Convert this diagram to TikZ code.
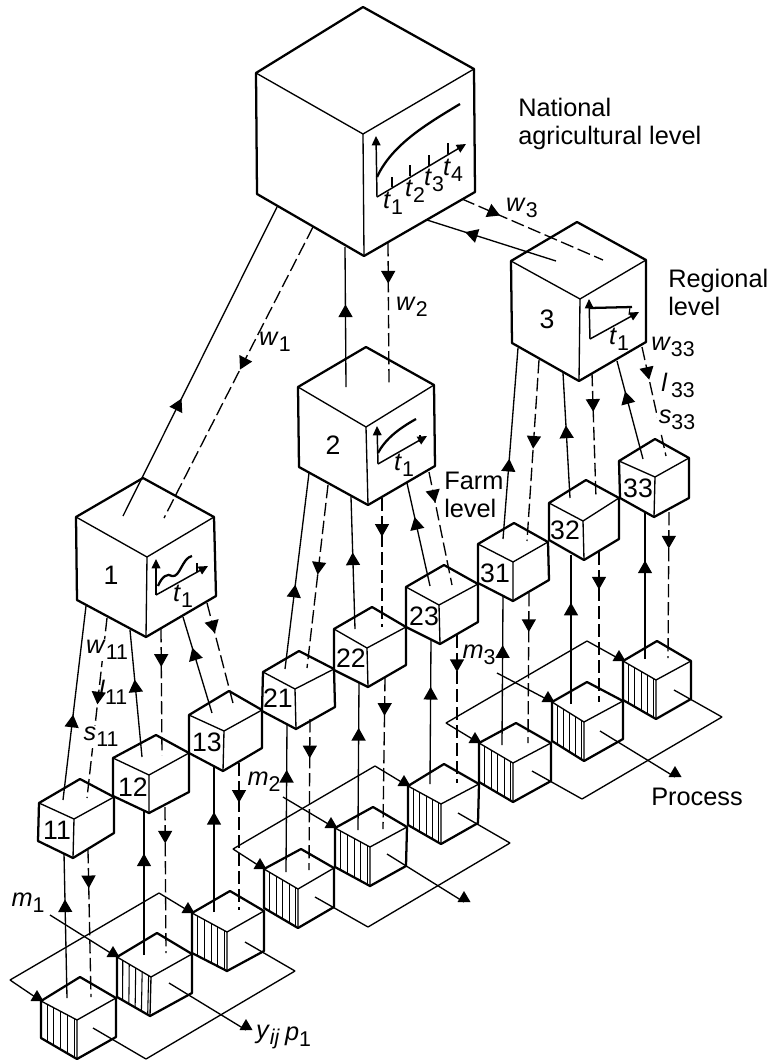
\documentclass[tikz,border=0pt]{standalone}
\usepackage{fontspec}
\setmainfont{Liberation Sans}
\usetikzlibrary{arrows.meta,decorations.markings,calc}
\newcommand{\symsub}[2]{\textit{#1}\raisebox{-0.45ex}{\fontsize{16}{16}\selectfont #2}}
\newcommand{\blockcube}[8]{%
\coordinate (#1-t) at (#2);
\coordinate (#1-l) at (#3);
\coordinate (#1-r) at (#4);
\coordinate (#1-c) at (#5);
\coordinate (#1-ll) at (#6);
\coordinate (#1-b) at (#7);
\coordinate (#1-lr) at (#8);
\fill[white] (#1-t) -- (#1-r) -- (#1-lr) -- (#1-b) -- (#1-ll) -- (#1-l) -- cycle;
\draw[blockedge] (#1-l) -- (#1-c) -- (#1-r) (#1-c) -- (#1-b);
\draw[blockoutline] (#1-l) -- (#1-t) -- (#1-r) -- (#1-lr) -- (#1-b) -- (#1-ll) -- cycle;
}
\newcommand{\hatchface}[1]{%
\foreach \f in {0.17,0.36,0.55,0.74,0.93} {
\draw[hatchline] ($(#1-l)!\f!(#1-c)$) -- ($(#1-ll)!\f!(#1-b)$);
}
}
\newcommand{\headup}[1]{\fill ($(#1)+(-6.5,0)$) -- ($(#1)+(0,-11)$) -- ($(#1)+(6.5,0)$) -- cycle;}
\tikzset{
blockedge/.style={line width=1pt},
blockoutline/.style={line width=1.7pt,line join=round},
hatchline/.style={line width=0.8pt},
plateline/.style={line width=1pt},
graphaxis/.style={line width=1.1pt,-{Triangle[width=6.5pt,length=7pt]}},
graphtick/.style={line width=0.8pt},
graphcurve/.style={line width=1.7pt},
uplink/.style={line width=1pt,postaction={decorate},
  decoration={markings,mark=at position #1 with {\arrow{Triangle[width=10.5pt,length=9.5pt]}}}},
downlink/.style={line width=1pt,dash pattern=on 10pt off 3.5pt,postaction={decorate},
  decoration={markings,mark=at position #1 with {\arrow{Triangle[width=10.5pt,length=9.5pt]}}}},
txt/.style={inner sep=0pt,font=\fontsize{19}{21}\selectfont},
numtxt/.style={inner sep=0pt,font=\fontsize{20}{21}\selectfont},
covertxt/.style={txt,fill=white,inner sep=1pt},
sidetxt/.style={txt,anchor=west,align=left}
}
\begin{document}
\begin{tikzpicture}[x=0.75pt,y=-0.75pt]
\path[use as bounding box] (0,0) rectangle (771,1060);
\coordinate (pl1-l) at (10,980);
\coordinate (pl1-t) at (159,893);
\coordinate (pl1-r) at (295,971);
\coordinate (pl1-b) at (146,1059);
\coordinate (pl2-l) at (233,849);
\coordinate (pl2-t) at (375,766);
\coordinate (pl2-r) at (510,843);
\coordinate (pl2-b) at (368,927);
\coordinate (pl3-l) at (446,723);
\coordinate (pl3-t) at (587,641);
\coordinate (pl3-r) at (722,717);
\coordinate (pl3-b) at (582,799);
\draw[plateline] (pl1-l) -- (pl1-t) (pl1-b) -- (pl1-r);
\draw[plateline] (pl2-l) -- (pl2-t) (pl2-b) -- (pl2-r);
\draw[plateline] (pl3-l) -- (pl3-t) (pl3-b) -- (pl3-r);
\blockcube{nat}{363,7}{256,73}{474,69}{363,134}{257,194}{364,256}{475,192}
\blockcube{reg1}{143,478}{76,517}{214,517}{147,557}{77,600}{146,637}{216,596}
\blockcube{reg2}{366,347}{298,387}{434,385}{366,427}{299,467}{368,505}{435,466}
\blockcube{reg3}{577,222}{511,261}{646,260}{580,299}{512,343}{579,381}{646,342}
\blockcube{f33}{655,439}{619,461}{689,458}{655,477}{620,498}{654,517}{689,498}
\blockcube{f32}{586,480}{549,503}{619,498}{583,521}{549,540}{584,560}{619,539}
\blockcube{f31}{514,523}{478,544}{548,542}{513,562}{478,583}{513,601}{549,580}
\blockcube{f23}{444,565}{406,587}{478,584}{439,605}{406,627}{440,644}{478,622}
\blockcube{f22}{372,607}{334,629}{406,627}{367,648}{334,670}{368,687}{406,665}
\blockcube{f21}{299,651}{263,672}{334,669}{295,689}{262,711}{296,729}{335,707}
\blockcube{f13}{229,691}{189,715}{262,710}{224,731}{189,753}{223,771}{262,748}
\blockcube{f12}{156,735}{113,758}{189,753}{149,775}{113,796}{149,813}{189,792}
\blockcube{f11}{80,779}{39,803}{114,797}{74,819}{38,841}{73,858}{114,833}
\blockcube{q3c}{657,641}{623,661}{691,661}{656,680}{623,700}{656,719}{691,699}
\hatchface{q3c}
\blockcube{q3b}{587,682}{552,702}{623,701}{584,722}{552,741}{584,761}{623,739}
\hatchface{q3b}
\blockcube{q3a}{516,723}{479,743}{551,743}{513,763}{479,782}{513,802}{551,781}
\hatchface{q3a}
\blockcube{q2c}{444,764}{408,786}{479,784}{441,804}{408,825}{441,844}{478,823}
\hatchface{q2c}
\blockcube{q2b}{373,807}{335,828}{407,827}{370,847}{335,867}{370,886}{406,866}
\hatchface{q2b}
\blockcube{q2a}{301,849}{264,869}{334,868}{298,889}{264,908}{298,928}{334,907}
\hatchface{q2a}
\blockcube{q1c}{230,891}{192,913}{264,911}{227,932}{192,953}{227,971}{264,951}
\hatchface{q1c}
\blockcube{q1b}{157,933}{117,957}{192,954}{151,977}{117,997}{150,1016}{192,993}
\hatchface{q1b}
\blockcube{q1a}{80,977}{41,1001}{116,998}{77,1020}{41,1038}{77,1059}{116,1037}
\hatchface{q1a}
\coordinate (in1) at (50,915);
\coordinate (in2) at (283,797);
\coordinate (in3) at (497,673);
\coordinate (out1a) at (93,1028);
\coordinate (out1b) at (169,983);
\coordinate (out1c) at (245,942);
\coordinate (end1) at (246,1030);
\coordinate (out2a) at (315,897);
\coordinate (out2b) at (387,854);
\coordinate (out2c) at (458,813);
\coordinate (end2) at (464,902);
\coordinate (out3a) at (532,771);
\coordinate (out3b) at (600,731);
\coordinate (out3c) at (674,690);
\coordinate (end3) at (675,777);
\draw[plateline] (pl1-l) -- (q1a-l);
\draw[plateline] (in1) -- (q1b-l);
\draw[plateline] (pl1-t) -- (q1c-l);
\draw[plateline] (out1a) -- (pl1-b);
\draw[plateline] (out1b) -- (end1);
\draw[plateline] (out1c) -- (pl1-r);
\draw[plateline] (pl2-l) -- (q2a-l);
\draw[plateline] (in2) -- (q2b-l);
\draw[plateline] (pl2-t) -- (q2c-l);
\draw[plateline] (out2a) -- (pl2-b);
\draw[plateline] (out2b) -- (end2);
\draw[plateline] (out2c) -- (pl2-r);
\draw[plateline] (pl3-l) -- (q3a-l);
\draw[plateline] (in3) -- (q3b-l);
\draw[plateline] (pl3-t) -- (q3c-l);
\draw[plateline] (out3a) -- (pl3-b);
\draw[plateline] (out3b) -- (end3);
\draw[plateline] (out3c) -- (pl3-r);
\headup{$(q1a-l)+(-4,0)$}
\headup{$(q1b-l)+(-4,0)$}
\headup{$(q1c-l)+(-4,0)$}
\headup{$(q2a-l)+(-4,0)$}
\headup{$(q2b-l)+(-4,0)$}
\headup{$(q2c-l)+(-4,0)$}
\headup{$(q3a-l)+(-4,0)$}
\headup{$(q3b-l)+(-4,0)$}
\headup{$(q3c-l)+(-4,0)$}
\headup{end1}
\headup{end2}
\headup{end3}
\coordinate (nu1a) at (123,516); \coordinate (nu1b) at (277,207); \draw[uplink=0.38] (nu1a) -- (nu1b);
\coordinate (nd1a) at (313,227); \coordinate (nd1b) at (164,518); \draw[downlink=0.49] (nd1a) -- (nd1b);
\coordinate (nu2a) at (346,387); \coordinate (nu2b) at (345,247); \draw[uplink=0.59] (nu2a) -- (nu2b);
\coordinate (nd2a) at (388,243); \coordinate (nd2b) at (389,383); \draw[downlink=0.29] (nd2a) -- (nd2b);
\coordinate (nu3a) at (556,261); \coordinate (nu3b) at (427,220); \draw[uplink=0.705] (nu3a) -- (nu3b);
\coordinate (nd3a) at (462,199); \coordinate (nd3b) at (603,260); \draw[downlink=0.27] (nd3a) -- (nd3b);
\coordinate (ru11a) at (63,800); \coordinate (ru11b) at (86,606); \draw[uplink=0.44] (ru11a) -- (ru11b);
\coordinate (rd11a) at (107,618); \coordinate (rd11b) at (87,798); \draw[downlink=0.48] (rd11a) -- (rd11b);
\coordinate (ru12a) at (142,757); \coordinate (ru12b) at (130,630); \draw[uplink=0.61] (ru12a) -- (ru12b);
\coordinate (rd12a) at (161,629); \coordinate (rd12b) at (162,755); \draw[downlink=0.30] (rd12a) -- (rd12b);
\coordinate (ru13a) at (212,713); \coordinate (ru13b) at (183,617); \draw[uplink=0.68] (ru13a) -- (ru13b);
\coordinate (rd13a) at (207,603); \coordinate (rd13b) at (234,707); \draw[downlink=0.29] (rd13a) -- (rd13b);
\coordinate (ru21a) at (285,669); \coordinate (ru21b) at (309,473); \draw[uplink=0.43] (ru21a) -- (ru21b);
\coordinate (rd21a) at (328,485); \coordinate (rd21b) at (307,668); \draw[downlink=0.49] (rd21a) -- (rd21b);
\coordinate (ru22a) at (355,629); \coordinate (ru22b) at (351,497); \draw[uplink=0.58] (ru22a) -- (ru22b);
\coordinate (rd22a) at (382,498); \coordinate (rd22b) at (382,627); \draw[downlink=0.30] (rd22a) -- (rd22b);
\coordinate (ru23a) at (430,586); \coordinate (ru23b) at (407,483); \draw[uplink=0.67] (ru23a) -- (ru23b);
\coordinate (rd23a) at (429,472); \coordinate (rd23b) at (452,585); \draw[downlink=0.27] (rd23a) -- (rd23b);
\coordinate (ru31a) at (503,539); \coordinate (ru31b) at (518,348); \draw[uplink=0.42] (ru31a) -- (ru31b);
\coordinate (rd31a) at (539,360); \coordinate (rd31b) at (527,541); \draw[downlink=0.49] (rd31a) -- (rd31b);
\coordinate (ru32a) at (570,498); \coordinate (ru32b) at (563,373); \draw[uplink=0.58] (ru32a) -- (ru32b);
\coordinate (rd32a) at (592,373); \coordinate (rd32b) at (596,498); \draw[downlink=0.31] (rd32a) -- (rd32b);
\coordinate (ru33a) at (643,459); \coordinate (ru33b) at (617,361); \draw[uplink=0.69] (ru33a) -- (ru33b);
\coordinate (rd33a) at (642,347); \coordinate (rd33b) at (666,456); \draw[downlink=0.30] (rd33a) -- (rd33b);
\coordinate (fu11a) at (67,998); \coordinate (fu11b) at (64,853); \draw[uplink=0.68] (fu11a) -- (fu11b);
\coordinate (fd11a) at (88,850); \coordinate (fd11b) at (91,997); \draw[downlink=0.26] (fd11a) -- (fd11b);
\coordinate (fu12a) at (144,955); \coordinate (fu12b) at (144,810); \draw[uplink=0.70] (fu12a) -- (fu12b);
\coordinate (fd12a) at (165,807); \coordinate (fd12b) at (166,953); \draw[downlink=0.25] (fd12a) -- (fd12b);
\coordinate (fu13a) at (214,912); \coordinate (fu13b) at (214,767); \draw[uplink=0.69] (fu13a) -- (fu13b);
\coordinate (fd13a) at (239,763); \coordinate (fd13b) at (239,910); \draw[downlink=0.27] (fd13a) -- (fd13b);
\coordinate (fu21a) at (286,872); \coordinate (fu21b) at (287,724); \draw[uplink=0.69] (fu21a) -- (fu21b);
\coordinate (fd21a) at (310,719); \coordinate (fd21b) at (309,870); \draw[downlink=0.26] (fd21a) -- (fd21b);
\coordinate (fu22a) at (358,830); \coordinate (fu22b) at (359,682); \draw[uplink=0.69] (fu22a) -- (fu22b);
\coordinate (fd22a) at (385,678); \coordinate (fd22b) at (383,829); \draw[downlink=0.25] (fd22a) -- (fd22b);
\coordinate (fu23a) at (430,784); \coordinate (fu23b) at (431,639); \draw[uplink=0.67] (fu23a) -- (fu23b);
\coordinate (fd23a) at (457,635); \coordinate (fd23b) at (457,783); \draw[downlink=0.25] (fd23a) -- (fd23b);
\coordinate (fu31a) at (502,745); \coordinate (fu31b) at (503,596); \draw[uplink=0.67] (fu31a) -- (fu31b);
\coordinate (fd31a) at (529,593); \coordinate (fd31b) at (528,743); \draw[downlink=0.26] (fd31a) -- (fd31b);
\coordinate (fu32a) at (571,704); \coordinate (fu32b) at (571,555); \draw[uplink=0.68] (fu32a) -- (fu32b);
\coordinate (fd32a) at (599,552); \coordinate (fd32b) at (599,702); \draw[downlink=0.25] (fd32a) -- (fd32b);
\coordinate (fu33a) at (645,659); \coordinate (fu33b) at (645,512); \draw[uplink=0.67] (fu33a) -- (fu33b);
\coordinate (fd33a) at (669,512); \coordinate (fd33b) at (668,658); \draw[downlink=0.25] (fd33a) -- (fd33b);
\coordinate (gn0) at (377,197); \coordinate (gny) at (376,136); \coordinate (gnx) at (466,144);
\draw[graphaxis] (gn0) -- (gny);
\draw[graphaxis] (gn0) -- (gnx);
\draw[graphtick] (392,187) -- (392,177) (410,176) -- (410,165) (429,166) -- (429,155) (448,154) -- (448,143);
\draw[graphcurve] (377,177) .. controls (392,145) and (425,125) .. (460,104);
\coordinate (g10) at (156,595); \coordinate (g1y) at (156,559); \coordinate (g1x) at (208,566);
\draw[graphaxis] (g10) -- (g1y);
\draw[graphaxis] (g10) -- (g1x);
\draw[graphtick] (197,563) -- (197,572);
\draw[graphcurve] (158,586) .. controls (162,576) and (168,573) .. (172,576) .. controls (180,578) and (182,558) .. (192,556);
\coordinate (g20) at (378,464); \coordinate (g2y) at (377,426); \coordinate (g2x) at (427,436);
\draw[graphaxis] (g20) -- (g2y);
\draw[graphaxis] (g20) -- (g2x);
\draw[graphtick] (420,435) -- (420,442);
\draw[graphcurve] (378,453) .. controls (386,438) and (400,428) .. (416,419);
\coordinate (g30) at (590,339); \coordinate (g3y) at (589,299); \coordinate (g3x) at (639,312);
\draw[graphaxis] (g30) -- (g3y);
\draw[graphaxis] (g30) -- (g3x);
\draw[graphcurve] (590,308) -- (632,307);
\draw[graphtick] (630,307) -- (629,315);
\node[txt] (tn1) at (393,203) {\symsub{t}{1}};
\node[txt] (tn2) at (415,191) {\symsub{t}{2}};
\node[txt] (tn3) at (434,180) {\symsub{t}{3}};
\node[txt] (tn4) at (453,170) {\symsub{t}{4}};
\node[txt] (tr1) at (183,596) {\symsub{t}{1}};
\node[txt] (tr2) at (404,465) {\symsub{t}{1}};
\node[txt] (tr3) at (619,339) {\symsub{t}{1}};
\node[numtxt] (lb1) at (111,575) {1};
\node[numtxt] (lb2) at (333,445) {2};
\node[numtxt] (lb3) at (547,319) {3};
\node[numtxt] (lb11) at (57,830) {11};
\node[numtxt] (lb12) at (133,787) {12};
\node[numtxt] (lb13) at (207,742) {13};
\node[numtxt] (lb21) at (278,698) {21};
\node[numtxt] (lb22) at (351,658) {22};
\node[numtxt] (lb23) at (424,616) {23};
\node[numtxt] (lb31) at (495,573) {31};
\node[numtxt] (lb32) at (565,530) {32};
\node[numtxt] (lb33) at (638,488) {33};
\node[sidetxt] (natlabel) at (518,124) {National\\agricultural level};
\node[sidetxt] (reglabel) at (668,292) {Regional\\level};
\node[sidetxt] (farmlabel) at (444,495) {Farm\\level};
\node[txt] (proclabel) at (697,797) {Process};
\node[txt] (w1) at (275,342) {\symsub{w}{1}};
\node[txt] (w2) at (412,307) {\symsub{w}{2}};
\node[txt] (w3) at (522,208) {\symsub{w}{3}};
\node[covertxt] (w11) at (107,650) {\symsub{w}{11}};
\node[txt] (l11) at (113,692) {\symsub{l}{11}};
\node[covertxt] (s11) at (101,737) {\symsub{s}{11}};
\node[txt] (w33) at (673,347) {\symsub{w}{33}};
\node[txt] (l33) at (678,385) {\symsub{l}{\,33}};
\node[covertxt] (s33) at (677,420) {\symsub{s}{33}};
\node[txt] (m1) at (28,903) {\symsub{m}{1}};
\node[txt] (m2) at (264,782) {\symsub{m}{2}};
\node[txt] (m3) at (479,655) {\symsub{m}{3}};
\node[txt] (yij) at (268,1037) {\symsub{y}{\textit{ij}}};
\node[txt] (p1) at (298,1037) {\symsub{p}{1}};
\end{tikzpicture}
\end{document}
